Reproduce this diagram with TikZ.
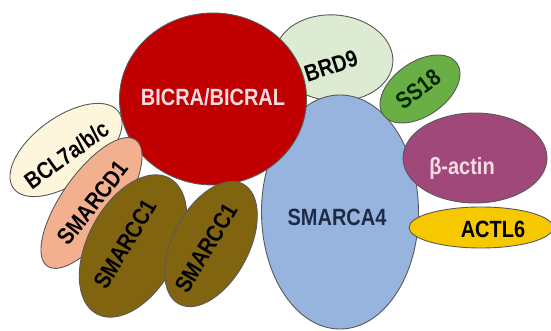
\documentclass[tikz,border=0pt]{standalone}
\usepackage{fontspec}
\usepackage{graphicx}
\setmainfont{Liberation Sans}
\usetikzlibrary{shapes.geometric}

\definecolor{bicrared}{HTML}{C00000}
\definecolor{brdgreen}{HTML}{DCEBD2}
\definecolor{ssgreen}{HTML}{6AAE46}
\definecolor{smablue}{HTML}{97B4DE}
\definecolor{actinpurple}{HTML}{A0487A}
\definecolor{actlyellow}{HTML}{F5C800}
\definecolor{bclcream}{HTML}{FDF5DC}
\definecolor{smdsalmon}{HTML}{F3B08E}
\definecolor{smcolive}{HTML}{806410}
\definecolor{navytext}{HTML}{1F2A44}
\definecolor{pinktext}{HTML}{F6DCE2}

% chữ hẹp, đậm
\newcommand{\slim}[1]{\scalebox{0.85}[1]{#1}}

\begin{document}
\begin{tikzpicture}[x=1pt, y=1pt,
    blob/.style={ellipse, draw=black!65, line width=0.9pt, inner sep=0pt},
    lbl/.style={font=\fontsize{23.5}{23.5}\selectfont\bfseries, inner sep=0pt}]
    \useasboundingbox (0,0) rectangle (551,331);

    % ==================== LỚP SAU ====================
    % BCL7a/b/c
    \node[blob, fill=bclcream, minimum width=130pt, minimum height=66pt, rotate=36] (bcl) at (66,181) {};
    \node[lbl, rotate=36] (bcltxt) at (66.5,176) {\slim{BCL7a/b/c}};

    % BRD9
    \node[blob, fill=brdgreen, minimum width=118pt, minimum height=86pt, rotate=-5] (brd) at (334,273) {};
    \node[lbl, rotate=18] (brdtxt) at (331,265) {\slim{BRD9}};

    % SMARCA4
    \node[blob, fill=smablue, minimum width=157pt, minimum height=234pt] (sma) at (340,119) {};
    \node[lbl, navytext] (smatxt) at (337,114) {\slim{SMARCA4}};

    % SS18
    \node[blob, fill=ssgreen, minimum width=90pt, minimum height=54pt, rotate=35] (ss) at (420,242) {};
    \node[lbl, rotate=37, black!85!green] (sstxt) at (418,242) {\slim{SS18}};

    % ==================== LỚP TRƯỚC ====================
    % BICRA/BICRAL
    \node[blob, fill=bicrared, minimum width=187pt, minimum height=172pt] (bicra) at (213,232) {};
    \node[lbl, pinktext] (bicratxt) at (213,234) {\slim{BICRA/BICRAL}};

    % SMARCD1
    \node[blob, fill=smdsalmon, minimum width=154pt, minimum height=60pt, rotate=55] (smd) at (91.5,128) {};
    \node[lbl, rotate=52] (smdtxt) at (93,128) {\slim{SMARCD1}};

    % Hai khối SMARCC1
    \node[blob, fill=smcolive, minimum width=154pt, minimum height=90pt, rotate=62] (smca) at (133,85) {};
    \node[lbl, rotate=59] (smcatxt) at (125,87) {\slim{SMARCC1}};
    \node[blob, fill=smcolive, minimum width=136pt, minimum height=76pt, rotate=62] (smcb) at (211,87) {};
    \node[lbl, rotate=59] (smcbtxt) at (206,83) {\slim{SMARCC1}};

    % beta-actin và ACTL6
    \node[blob, fill=actinpurple, minimum width=144pt, minimum height=90pt] (actin) at (475,173) {};
    \node[lbl, pinktext] (actintxt) at (462,163) {\slim{β-actin}};
    \node[blob, fill=actlyellow, minimum width=144pt, minimum height=41pt] (actl) at (481,103.5) {};
    \node[lbl] (actltxt) at (493,102) {\slim{ACTL6}};
\end{tikzpicture}
\end{document}
